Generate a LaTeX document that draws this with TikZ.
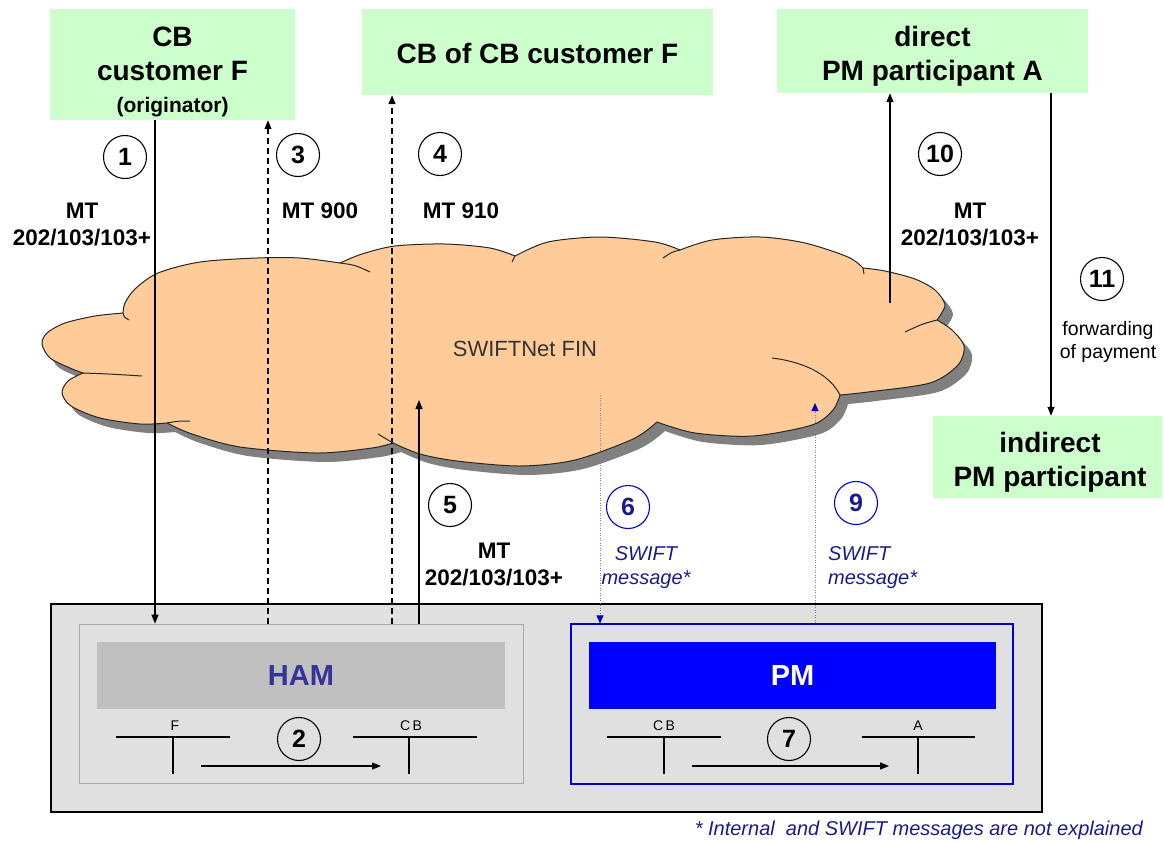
\documentclass[tikz,border=0pt]{standalone}
\usepackage{fontspec}
\setmainfont{Liberation Sans}
\usetikzlibrary{arrows.meta}
\definecolor{boxgreen}{RGB}{204,255,204}
\definecolor{cloudfill}{RGB}{255,204,153}
\definecolor{shadowgray}{RGB}{128,128,128}
\definecolor{panelgray}{RGB}{224,224,224}
\definecolor{hambar}{RGB}{192,192,192}
\definecolor{hamborder}{RGB}{170,170,170}
\definecolor{hamtext}{RGB}{51,51,153}
\definecolor{pmblue}{RGB}{0,0,255}
\definecolor{pmborder}{RGB}{0,0,204}
\definecolor{msgblue}{RGB}{26,26,140}
\definecolor{dotcol}{RGB}{128,128,176}
\definecolor{cloudtext}{RGB}{51,51,51}
\newcommand\cloudshp[1]{%
\path[#1]
 plot[smooth] coordinates {(123,313) (95,316) (65,323) (47,333) (42,344) (50,358) (70,368) (83,373)}
 -- plot[smooth] coordinates {(83,373) (68,381) (62,393) (71,406) (100,418) (140,424) (167,423)}
 -- plot[smooth] coordinates {(167,423) (192,434) (240,447) (317,453) (372,448) (393,443)}
 -- plot[smooth] coordinates {(393,443) (420,454) (457,461) (520,466) (575,460) (633,439) (657,422)}
 -- plot[smooth] coordinates {(657,422) (695,433) (753,436) (812,425) (833,410) (840,395)}
 -- plot[smooth] coordinates {(840,395) (868,392) (930,383) (958,365) (964,346) (952,330) (937,320)}
 -- plot[smooth] coordinates {(937,320) (945,305) (935,290) (915,279) (885,271) (863,268)}
 -- plot[smooth] coordinates {(863,268) (848,257) (805,243) (760,237) (712,240) (680,250)}
 -- plot[smooth] coordinates {(680,250) (655,242) (600,237) (548,242) (515,256)}
 -- plot[smooth] coordinates {(515,256) (490,248) (445,244) (395,246) (362,254) (340,263)}
 -- plot[smooth] coordinates {(340,263) (300,258) (257,258) (200,262) (158,273) (135,289) (125,303) (123,313)}
 -- cycle;}
\tikzset{
 greenbox/.style={fill=boxgreen, inner sep=0pt},
 greentext/.style={inner sep=0pt, align=center, font=\fontsize{28}{34}\selectfont\bfseries},
 num/.style={circle, draw, line width=1.1pt, minimum size=43pt, inner sep=0pt, font=\fontsize{25}{25}\selectfont\bfseries},
 bluenum/.style={num, draw=pmborder, text=msgblue},
 mtlabel/.style={align=center, inner sep=0pt, font=\fontsize{22.5}{27}\selectfont\bfseries},
 msg/.style={inner sep=0pt, text=msgblue, font=\fontsize{20}{24}\selectfont\itshape},
 arr/.style={line width=1.2pt, -{Triangle[length=9pt,width=7pt]}},
 dasharr/.style={arr, dash pattern=on 6pt off 4pt},
 dotarr/.style={line width=0.9pt, draw=dotcol, dash pattern=on 1pt off 1.5pt, -{Triangle[length=8pt,width=7pt,color=pmborder]}},
 tline/.style={line width=1.2pt},
 tlab/.style={font=\fontsize{14}{14}\selectfont, anchor=base, inner sep=0pt},
 inner/.style={line width=1pt, draw=black!85},
}
\begin{document}
\begin{tikzpicture}[x=1pt,y=-1pt]
\useasboundingbox (0,0) rectangle (1164,841);
% cloud
\begin{scope}[shift={(8,9)}]
 \cloudshp{fill=shadowgray}
\end{scope}
\cloudshp{fill=cloudfill, draw=black!85, line width=1pt}
% inner notch strokes
\draw[inner] (123,313) .. controls (124,317) .. (129,320);
\draw[inner] (83,373) .. controls (110,374) .. (142,376);
\draw[inner] (167,423) .. controls (178,421) .. (190,421);
\draw[inner] (393,443) .. controls (385,439) .. (378,434);
\draw[inner] (840,395) .. controls (830,375) and (805,362) .. (772,358);
\draw[inner] (937,320) .. controls (922,324) .. (905,332);
\draw[inner] (863,268) -- (864,274);
\draw[inner] (680,250) .. controls (672,252) .. (663,258);
\draw[inner] (515,256) -- (512,262);
\draw[inner] (340,263) .. controls (355,265) .. (370,272);
\node[font=\fontsize{22}{22}\selectfont, text=cloudtext] (fin) at (525,349) {SWIFTNet FIN};

% green boxes
\node[greenbox, minimum width=245pt, minimum height=111pt] (box1) at (172.5,64.5) {};
\node[greentext] (box1t) at (172.5,72) {CB\\customer F\\[-2pt]{\fontsize{21}{26}\selectfont (originator)}};
\node[greenbox, minimum width=351pt, minimum height=86pt] (box2) at (537.5,52) {};
\node[greentext] (box2t) at (537.5,53) {CB of CB customer F};
\node[greenbox, minimum width=311pt, minimum height=84pt] (box3) at (932.5,51) {};
\node[greentext] (box3t) at (932.5,56) {direct\\PM participant A};
\node[greenbox, minimum width=229pt, minimum height=82pt] (box4) at (1047.5,457) {};
\node[greentext] (box4t) at (1050,462) {indirect\\PM participant};

% panel
\node[draw=black, line width=1.4pt, fill=panelgray, minimum width=991pt, minimum height=208pt, inner sep=0pt] (panel) at (546.5,708) {};
\node[draw=hamborder, line width=0.8pt, minimum width=444pt, minimum height=159pt, inner sep=0pt] (ham) at (301,703.5) {};
\node[fill=hambar, minimum width=408pt, minimum height=67pt, inner sep=0pt, text=hamtext, font=\fontsize{29}{29}\selectfont\bfseries] (hambar) at (301,675.5) {HAM};
\node[draw=pmborder, line width=1.2pt, minimum width=442pt, minimum height=160pt, inner sep=0pt] (pm) at (792,704) {};
\node[fill=pmblue, minimum width=407pt, minimum height=67pt, inner sep=0pt, text=white, font=\fontsize{29}{29}\selectfont\bfseries] (pmbar) at (792.5,675.5) {PM};

% T accounts HAM
\node[tlab] (tF) at (175,730) {F};
\draw[tline] (116,737) -- (230,737) (173,737) -- (173,774);
\node[tlab] (tCB1) at (411,730) {C\,B};
\draw[tline] (353,737) -- (477,737) (409,737) -- (409,774);
\coordinate (h1) at (201,766); \coordinate (h2) at (381,766);
\draw[arr] (h1) -- (h2);
\node[num] (n2) at (299,739) {2};
% T accounts PM
\node[tlab] (tCB2) at (664,730) {C\,B};
\draw[tline] (607,737) -- (721,737) (664,737) -- (664,774);
\node[tlab] (tA) at (918,730) {A};
\draw[tline] (862,737) -- (975,737) (918,737) -- (918,774);
\coordinate (p1) at (692,766); \coordinate (p2) at (889,766);
\draw[arr] (p1) -- (p2);
\node[num] (n7) at (789,739) {7};

% vertical connectors
\coordinate (c1) at (155,0);
\coordinate (c3) at (268,0);
\coordinate (c4) at (392,0);
\coordinate (c5) at (419,400);
\coordinate (c6) at (600,395);
\coordinate (c9) at (815,403);
\coordinate (c10) at (890,303);
\coordinate (c11) at (1051,0);
\draw[arr] (box1.south -| c1) -- (ham.north -| c1);
\draw[dasharr] (ham.north -| c3) -- (box1.south -| c3);
\draw[dasharr] (ham.north -| c4) -- (box2.south -| c4);
\draw[arr] (ham.north -| c5) -- (c5);
\draw[dotarr] (c6) -- (pm.north -| c6);
\draw[dotarr] (pm.north -| c9) -- (c9);
\draw[arr] (c10) -- (box3.south -| c10);
\draw[arr] (box3.south -| c11) -- (box4.north -| c11);

% step numbers
\node[num] (n1) at (125,157) {1};
\node[num] (n3) at (298,155) {3};
\node[num] (n4) at (440,154) {4};
\node[num] (n10) at (940,154) {10};
\node[num] (n11) at (1102,279) {11};
\node[num] (n5) at (450,505) {5};
\node[bluenum] (n6) at (628,507) {6};
\node[bluenum] (n9) at (856,503) {9};

% message labels
\node[mtlabel] (m1) at (82,224) {MT\\202/103/103+};
\node[mtlabel] (m3) at (320,211) {MT 900};
\node[mtlabel] (m4) at (461,211) {MT 910};
\node[mtlabel] (m10) at (970,224) {MT\\202/103/103+};
\node[mtlabel] (m5) at (494,564) {MT\\202/103/103+};
\node[msg, align=center] (s6) at (646,568) {SWIFT\\message*};
\node[msg, align=left, anchor=west] (s9) at (828,568) {SWIFT\\message*};
\node[align=center, inner sep=0pt, font=\fontsize{19.5}{23}\selectfont] (fw) at (1108,342) {forwarding\\of payment};
\node[msg, anchor=east] (note) at (1143,830) {* Internal~ and SWIFT messages are not explained};
\end{tikzpicture}
\end{document}
